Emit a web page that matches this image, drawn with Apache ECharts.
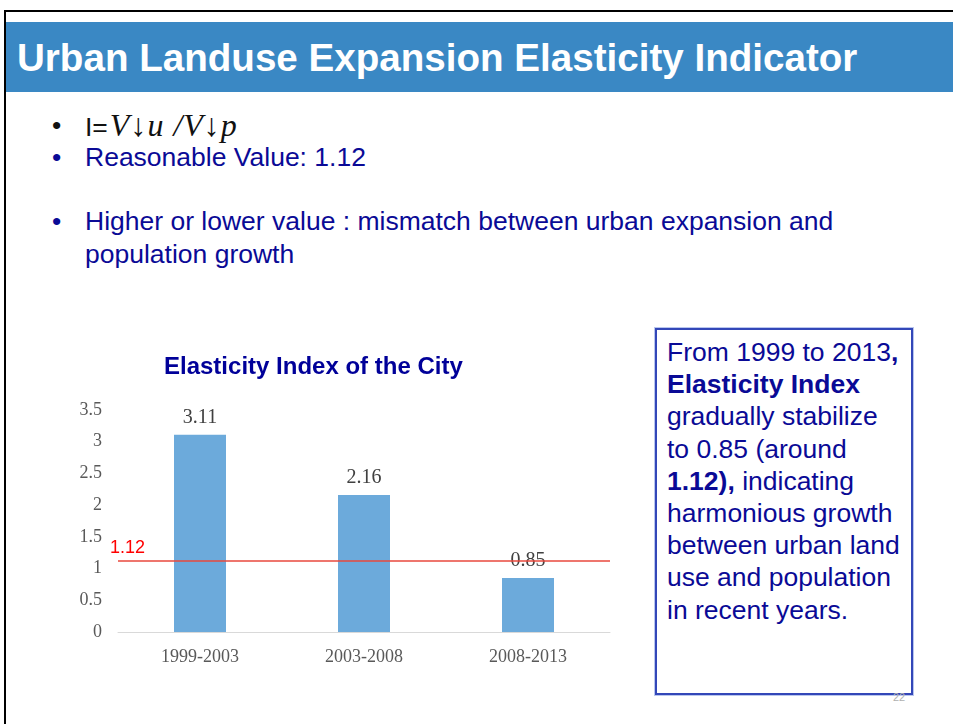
<!DOCTYPE html>
<html>
<head>
<meta charset="utf-8">
<script src="https://cdn.jsdelivr.net/npm/echarts@6/dist/echarts.min.js"></script>
<style>
  html, body { margin: 0; padding: 0; background: #fff; }
  body { width: 953px; height: 724px; position: relative; overflow: hidden; font-family: "Liberation Sans", Arial, sans-serif; }
  .frame { position: absolute; left: 4px; top: 10px; width: 960px; height: 730px; border-left: 2px solid #000; border-top: 2px solid #000; }
  .header { position: absolute; left: 6px; top: 22px; width: 960px; height: 70px; background: #3a88c4; }
  .title { position: absolute; left: 17px; top: 39px; font-size: 38.6px; line-height: 38px; font-weight: bold; color: #fff; white-space: nowrap; }
  .bullet { position: absolute; font-size: 26.5px; line-height: 33px; color: #0a0a96; white-space: nowrap; }
  .dot { position: absolute; left: 52px; }
  .txt { position: absolute; left: 85px; }
  .math { font-family: "Liberation Serif", "Times New Roman", serif; font-style: italic; font-size: 32px; letter-spacing: 1px; margin-left: 2px; }
  .box { position: absolute; left: 655px; top: 328px; width: 234px; height: 341px; border: 2px solid #3347b8; box-shadow: 0 0 0 1px #b9c6ee; padding: 6px 10px 16px 10px; font-size: 26.5px; line-height: 32.2px; color: #0a0a96; white-space: nowrap; }
  .page { position: absolute; left: 893px; top: 691px; font-size: 11px; color: #b0b0b0; }
  #chart { position: absolute; left: 60px; top: 340px; width: 570px; height: 340px; }
</style>
</head>
<body>
<div class="frame"></div>
<div class="header"></div>
<div class="title">Urban Landuse Expansion Elasticity Indicator</div>

<div class="bullet" style="top:109px;color:#111"><span class="dot">•</span><span class="txt">I=<span class="math">V↓u /V↓p</span></span></div>
<div class="bullet" style="top:141px"><span class="dot">•</span><span class="txt">Reasonable Value: 1.12</span></div>
<div class="bullet" style="top:205px"><span class="dot">•</span><span class="txt">Higher or lower value : mismatch between urban expansion and<br>population growth</span></div>

<div class="box">From 1999 to 2013<b>,</b><br><b>Elasticity Index</b><br>gradually stabilize<br>to 0.85 (around<br><b>1.12),</b> indicating<br>harmonious growth<br>between urban land<br>use and population<br>in recent years.</div>
<div class="page">22</div>

<div id="chart"></div>

<script>
const periods = ["1999-2003", "2003-2008", "2008-2013"];
const elasticity = [3.11, 2.16, 0.85];
const reasonableValue = 1.12;

const serif = "Liberation Serif";

const chart = echarts.init(document.getElementById("chart"));

chart.setOption({
    animation: false,
    title: {
        text: "Elasticity Index of the City",
        left: 104,
        top: 15,
        padding: 0,
        textStyle: {
            color: "#000099",
            fontSize: 24,
            fontWeight: "bold",
            fontFamily: "Liberation Sans"
        }
    },
    grid: { left: 58, right: 20, top: 70, bottom: 48 },
    xAxis: {
        type: "category",
        data: periods,
        axisLine: { lineStyle: { color: "#d9d9d9", width: 1 } },
        axisTick: { show: false },
        axisLabel: { color: "#595959", fontSize: 18, fontFamily: serif, margin: 16 }
    },
    yAxis: {
        type: "value",
        min: 0,
        max: 3.5,
        interval: 0.5,
        splitLine: { show: false },
        axisLine: { show: false },
        axisTick: { show: false },
        axisLabel: { color: "#595959", fontSize: 18, fontFamily: serif, margin: 16 }
    },
    series: [{
        type: "bar",
        data: elasticity,
        barWidth: 52,
        itemStyle: { color: "#6caadb" },
        label: {
            show: true,
            position: "top",
            distance: 7,
            color: "#404040",
            fontSize: 20,
            fontFamily: serif
        },
        markLine: {
            silent: true,
            symbol: "none",
            lineStyle: { color: "#e8483c", width: 1.5, type: "solid" },
            label: {
                position: "insideStartTop",
                formatter: String(reasonableValue),
                color: "#ff0000",
                fontSize: 18,
                fontFamily: "Liberation Sans",
                distance: [-8, 4]
            },
            data: [{ yAxis: reasonableValue }]
        }
    }]
});

window.addEventListener("resize", () => chart.resize());
</script>
</body>
</html>
